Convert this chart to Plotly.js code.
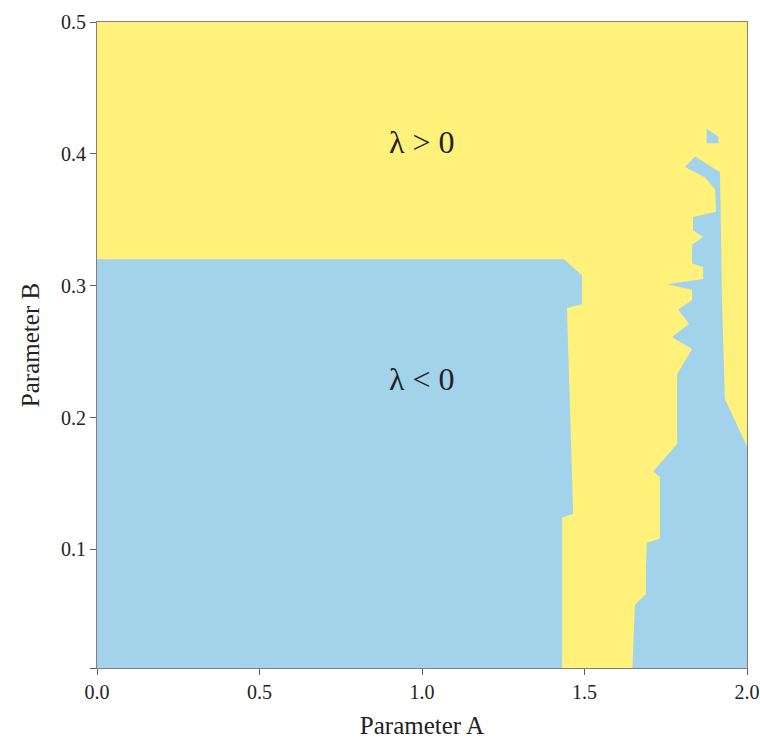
<!DOCTYPE html>
<html>
<head>
<meta charset="utf-8">
<script src="https://cdn.plot.ly/plotly-3.0.1.min.js"></script>
<style>html,body{margin:0;padding:0;background:#fff;}</style>
</head>
<body>
<div id="chart" style="width:760px;height:743px;"></div>
<script>
// Region boundaries (Parameter A, Parameter B) of the lambda < 0 (stable) regions
const leftStableA  = [0, 0, 1.437, 1.492, 1.492, 1.446, 1.465, 1.431, 1.431];
const leftStableB  = [0, 0.32, 0.32, 0.308, 0.286, 0.283, 0.127, 0.124, 0];

const rightStableA = [2.0, 2.0, 1.932, 1.923, 1.917, 1.840, 1.809, 1.871, 1.902, 1.905, 1.834, 1.834, 1.865, 1.831, 1.831, 1.865, 1.865, 1.754, 1.831, 1.831, 1.788, 1.822, 1.769, 1.831, 1.785, 1.785, 1.711, 1.732, 1.732, 1.692, 1.689, 1.689, 1.655, 1.646];
const rightStableB = [0, 0.178, 0.214, 0.289, 0.386, 0.398, 0.390, 0.382, 0.373, 0.356, 0.352, 0.342, 0.337, 0.331, 0.317, 0.314, 0.305, 0.301, 0.297, 0.289, 0.282, 0.271, 0.261, 0.252, 0.233, 0.180, 0.159, 0.155, 0.108, 0.105, 0.086, 0.066, 0.058, 0];

const islandA = [1.876, 1.912, 1.912, 1.876];
const islandB = [0.419, 0.413, 0.408, 0.408];

const xTickVals = [0, 0.5, 1.0, 1.5, 2.0];
const xTickText = ['0.0', '0.5', '1.0', '1.5', '2.0'];
const yTickVals = [0.01, 0.1, 0.2, 0.3, 0.4, 0.5];
const yTickText = ['', '0.1', '0.2', '0.3', '0.4', '0.5'];

const labelText = ['\u03bb > 0', '\u03bb < 0'];
const labelA = [1.0, 1.0];
const labelB = [0.409, 0.229];

const yellow = '#FFF17A';
const blue = '#A2D3EB';

function poly(xs, ys) {
  return {
    x: xs.concat([xs[0]]), y: ys.concat([ys[0]]),
    type: 'scatter', mode: 'lines', fill: 'toself',
    fillcolor: blue, line: {width: 0, color: blue},
    hoverinfo: 'skip', showlegend: false
  };
}

const data = [
  poly(leftStableA, leftStableB),
  poly(rightStableA, rightStableB),
  poly(islandA, islandB)
];

const font = 'Liberation Serif, Times New Roman, serif';
const axisCommon = {
  showgrid: false, zeroline: false, showline: true, mirror: true,
  linecolor: '#808080', linewidth: 1,
  ticks: 'outside', ticklen: 6, tickcolor: '#606060', tickwidth: 1,
  tickfont: {family: font, size: 20, color: '#222'},
  tickmode: 'array'
};

const layout = {
  width: 760, height: 743,
  margin: {l: 97, r: 13, t: 22, b: 75},
  paper_bgcolor: '#ffffff',
  plot_bgcolor: yellow,
  showlegend: false,
  xaxis: Object.assign({}, axisCommon, {
    range: [0, 2], tickvals: xTickVals, ticktext: xTickText,
    title: {text: 'Parameter A', font: {family: font, size: 25, color: '#222'}, standoff: 14}
  }),
  yaxis: Object.assign({}, axisCommon, {
    range: [0.01, 0.5], tickvals: yTickVals, ticktext: yTickText,
    title: {text: 'Parameter B', font: {family: font, size: 25, color: '#222'}, standoff: 14}
  }),
  annotations: labelText.map((t, i) => ({
    x: labelA[i], y: labelB[i], xref: 'x', yref: 'y', text: t, showarrow: false,
    font: {family: font, size: 32, color: '#222'}
  }))
};

Plotly.newPlot('chart', data, layout, {displayModeBar: false, staticPlot: true});
</script>
</body>
</html>
